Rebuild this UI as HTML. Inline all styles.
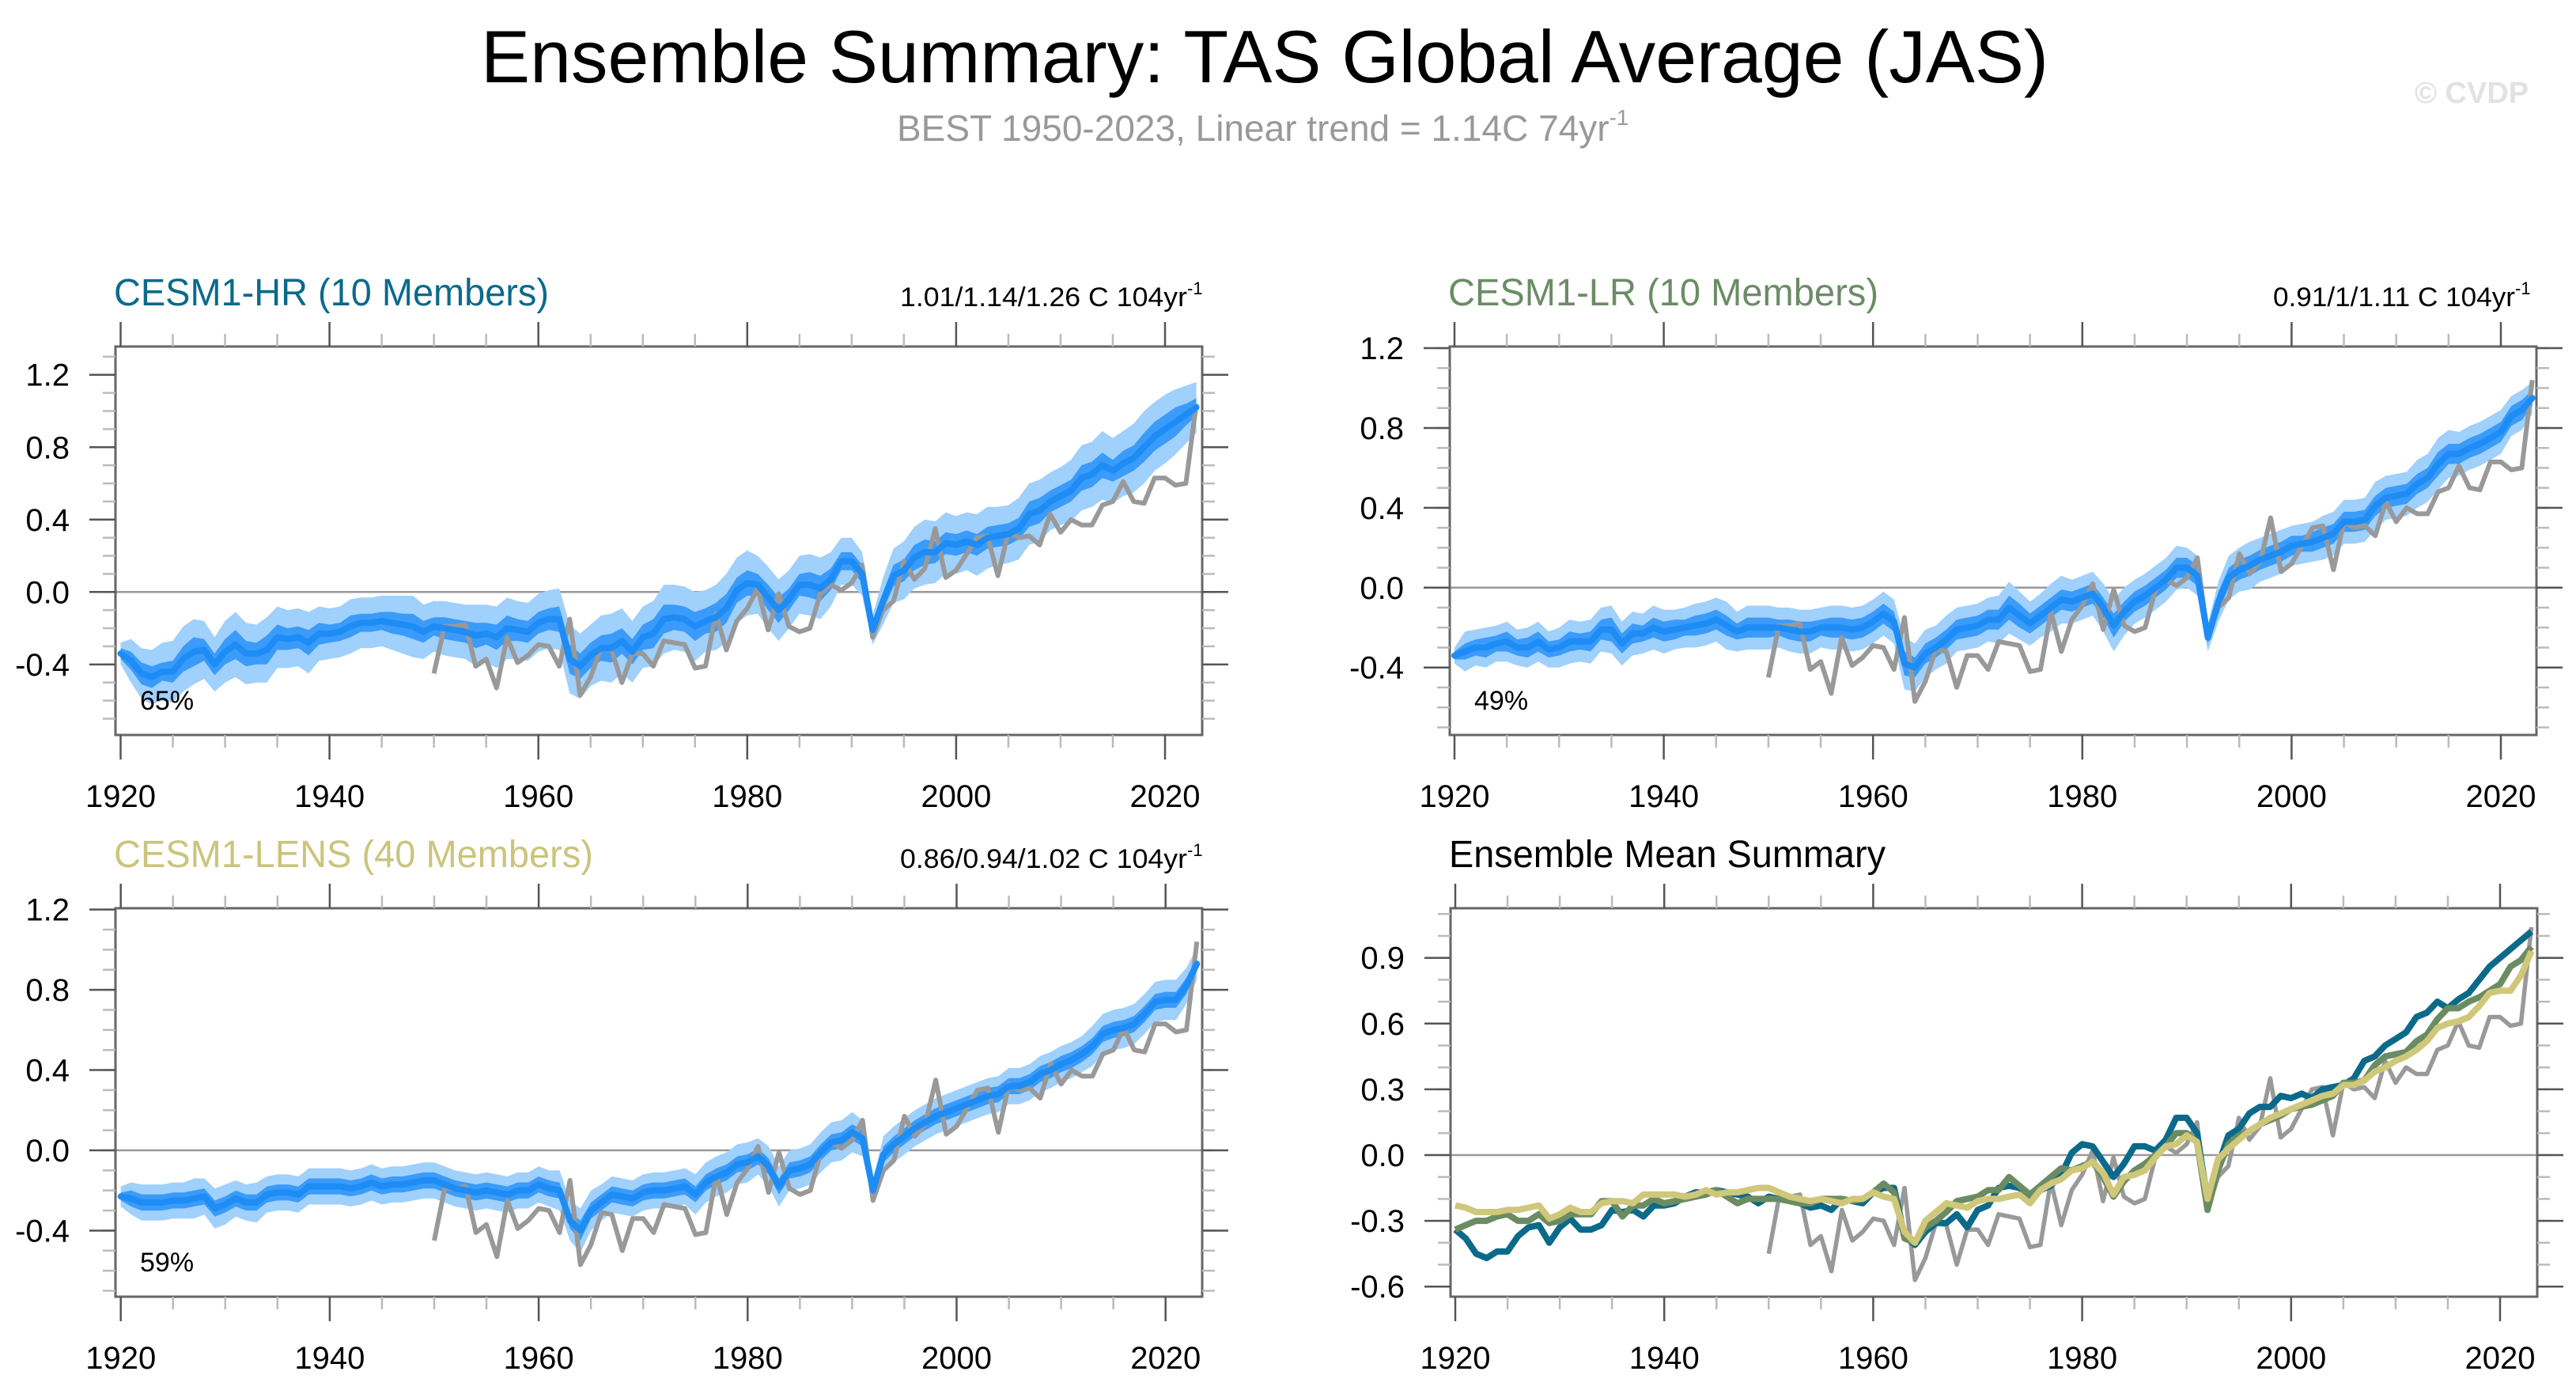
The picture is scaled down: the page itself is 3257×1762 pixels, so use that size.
<!DOCTYPE html>
<html><head><meta charset="utf-8"><style>
html,body{margin:0;padding:0;background:#fff}
svg{display:block;font-family:"Liberation Sans",Arial,sans-serif}
</style></head><body>
<svg id="fig" width="3257" height="1762" viewBox="0 0 3257 1762" xmlns="http://www.w3.org/2000/svg">
<rect x="0" y="0" width="3257" height="1762" fill="#fff"/>
<text x="608" y="104" font-size="94" fill="#000" textLength="1982" lengthAdjust="spacingAndGlyphs">Ensemble Summary: TAS Global Average (JAS)</text>
<text x="1134" y="178" font-size="46" fill="#999">BEST 1950-2023, Linear trend = 1.14C 74yr<tspan font-size="28" dy="-20">-1</tspan></text>
<text x="3053" y="130" font-size="38" font-weight="bold" fill="#e2e2e2">© CVDP</text>
<g id="panels"></g>
</svg>
<script>
// ---- data ----
const years = [];
for (let y = 1920; y <= 2023; y++) years.push(y);
const obsYears = [];
for (let y = 1950; y <= 2023; y++) obsYears.push(y);

const obsBEST = [
-0.45,-0.19,-0.19,-0.18,-0.41,-0.37,-0.53,-0.25,-0.39,-0.35,
-0.29,-0.30,-0.41,-0.15,-0.57,-0.47,-0.31,-0.32,-0.50,-0.34,
-0.34,-0.41,-0.27,-0.28,-0.29,-0.42,-0.41,-0.12,-0.32,-0.16,
-0.09,0.02,-0.21,-0.01,-0.19,-0.22,-0.20,-0.01,0.04,0.01,
0.05,0.15,-0.25,-0.10,-0.05,0.17,0.07,0.13,0.35,0.08,
0.12,0.21,0.30,0.31,0.09,0.33,0.30,0.31,0.26,0.43,
0.33,0.40,0.37,0.37,0.48,0.50,0.61,0.50,0.49,0.63,
0.63,0.59,0.60,1.04];

const meanHR = [
-0.34,-0.38,-0.45,-0.47,-0.44,-0.44,-0.37,-0.33,-0.32,-0.40,
-0.33,-0.29,-0.34,-0.34,-0.32,-0.25,-0.26,-0.25,-0.28,-0.23,
-0.23,-0.22,-0.19,-0.17,-0.17,-0.16,-0.17,-0.18,-0.19,-0.22,
-0.19,-0.20,-0.21,-0.22,-0.24,-0.23,-0.25,-0.20,-0.21,-0.22,
-0.17,-0.15,-0.15,-0.37,-0.41,-0.35,-0.31,-0.31,-0.27,-0.33,
-0.25,-0.23,-0.15,-0.14,-0.15,-0.19,-0.16,-0.14,-0.09,0.01,
0.05,0.04,-0.03,-0.10,-0.04,0.04,0.04,0.02,0.07,0.17,
0.17,0.10,-0.21,-0.05,0.09,0.12,0.19,0.22,0.22,0.27,
0.26,0.28,0.26,0.30,0.31,0.32,0.35,0.43,0.45,0.50,
0.53,0.56,0.63,0.65,0.70,0.67,0.71,0.74,0.80,0.86,
0.90,0.94,0.98,1.02];

const meanLR = [
-0.34,-0.32,-0.30,-0.30,-0.28,-0.27,-0.30,-0.30,-0.27,-0.31,
-0.30,-0.27,-0.27,-0.27,-0.21,-0.21,-0.28,-0.23,-0.23,-0.20,
-0.22,-0.21,-0.20,-0.19,-0.18,-0.16,-0.19,-0.22,-0.20,-0.20,
-0.20,-0.20,-0.21,-0.22,-0.22,-0.20,-0.20,-0.20,-0.21,-0.20,
-0.17,-0.13,-0.17,-0.38,-0.40,-0.33,-0.30,-0.26,-0.21,-0.20,
-0.19,-0.16,-0.16,-0.10,-0.14,-0.18,-0.14,-0.10,-0.06,-0.07,
-0.05,-0.03,-0.10,-0.19,-0.12,-0.07,-0.04,0.00,0.04,0.10,
0.10,0.06,-0.25,-0.07,0.05,0.09,0.11,0.14,0.16,0.18,
0.21,0.22,0.23,0.25,0.27,0.33,0.33,0.34,0.41,0.45,
0.46,0.47,0.52,0.55,0.62,0.67,0.67,0.70,0.72,0.75,
0.78,0.86,0.89,0.95];

const meanLENS = [
-0.23,-0.24,-0.26,-0.26,-0.26,-0.25,-0.25,-0.24,-0.23,-0.29,
-0.27,-0.24,-0.26,-0.26,-0.22,-0.21,-0.21,-0.22,-0.18,-0.18,
-0.18,-0.18,-0.19,-0.18,-0.16,-0.18,-0.17,-0.17,-0.16,-0.15,
-0.15,-0.17,-0.19,-0.20,-0.21,-0.20,-0.21,-0.22,-0.20,-0.20,
-0.17,-0.19,-0.20,-0.35,-0.40,-0.30,-0.26,-0.22,-0.23,-0.24,
-0.21,-0.20,-0.20,-0.19,-0.18,-0.22,-0.16,-0.13,-0.11,-0.07,
-0.06,-0.03,-0.08,-0.18,-0.10,-0.09,-0.07,-0.01,0.04,0.05,
0.09,0.06,-0.20,-0.02,0.03,0.07,0.11,0.14,0.17,0.19,
0.21,0.23,0.25,0.27,0.28,0.32,0.32,0.34,0.38,0.40,
0.43,0.45,0.48,0.52,0.58,0.60,0.61,0.63,0.68,0.74,
0.75,0.75,0.82,0.93];

const innerHR = [
0.03,0.05,0.06,0.06,0.05,0.06,0.07,0.08,0.06,0.06,
0.07,0.08,0.07,0.06,0.08,0.07,0.06,0.06,0.07,0.06,
0.05,0.05,0.06,0.05,0.05,0.05,0.06,0.06,0.07,0.06,
0.05,0.06,0.06,0.06,0.07,0.06,0.07,0.07,0.06,0.06,
0.06,0.06,0.07,0.08,0.07,0.07,0.07,0.08,0.07,0.07,
0.07,0.08,0.08,0.07,0.07,0.08,0.07,0.08,0.08,0.07,
0.07,0.06,0.07,0.07,0.06,0.06,0.07,0.07,0.06,0.05,
0.05,0.05,0.03,0.05,0.06,0.06,0.07,0.07,0.06,0.06,
0.06,0.06,0.06,0.06,0.06,0.06,0.06,0.07,0.07,0.06,
0.06,0.06,0.07,0.07,0.07,0.06,0.07,0.07,0.08,0.08,
0.08,0.08,0.06,0.05];
const outerHR = [
0.06,0.12,0.14,0.15,0.16,0.17,0.18,0.18,0.16,0.15,
0.17,0.18,0.17,0.16,0.18,0.17,0.16,0.16,0.17,0.15,
0.14,0.14,0.15,0.14,0.14,0.14,0.15,0.16,0.17,0.15,
0.14,0.15,0.15,0.15,0.17,0.16,0.17,0.17,0.16,0.16,
0.16,0.16,0.17,0.19,0.18,0.17,0.18,0.19,0.18,0.17,
0.17,0.18,0.19,0.18,0.18,0.19,0.17,0.18,0.19,0.18,
0.18,0.16,0.17,0.17,0.16,0.16,0.17,0.17,0.15,0.13,
0.13,0.12,0.08,0.13,0.15,0.16,0.17,0.18,0.17,0.17,
0.16,0.16,0.17,0.17,0.16,0.16,0.17,0.17,0.17,0.16,
0.16,0.17,0.18,0.18,0.19,0.18,0.18,0.19,0.20,0.19,
0.19,0.18,0.16,0.14];

const innerLR = [
0.02,0.04,0.04,0.05,0.04,0.05,0.04,0.05,0.05,0.04,
0.04,0.05,0.04,0.05,0.05,0.06,0.05,0.05,0.04,0.05,
0.05,0.05,0.04,0.05,0.05,0.05,0.05,0.04,0.05,0.05,
0.05,0.04,0.05,0.05,0.05,0.04,0.05,0.05,0.05,0.05,
0.05,0.05,0.05,0.06,0.05,0.05,0.05,0.05,0.05,0.05,
0.05,0.05,0.05,0.06,0.06,0.05,0.05,0.05,0.05,0.05,
0.05,0.05,0.05,0.06,0.05,0.05,0.05,0.05,0.05,0.05,
0.05,0.05,0.03,0.05,0.05,0.05,0.05,0.05,0.05,0.05,
0.05,0.04,0.05,0.05,0.05,0.05,0.05,0.05,0.05,0.05,
0.05,0.05,0.05,0.05,0.06,0.05,0.05,0.05,0.05,0.05,
0.05,0.05,0.05,0.04];
const outerLR = [
0.04,0.10,0.09,0.10,0.09,0.10,0.09,0.10,0.10,0.09,
0.10,0.11,0.10,0.11,0.11,0.12,0.11,0.11,0.10,0.11,
0.11,0.10,0.10,0.11,0.11,0.11,0.12,0.10,0.11,0.11,
0.11,0.10,0.11,0.11,0.11,0.10,0.11,0.11,0.11,0.11,
0.11,0.11,0.11,0.13,0.12,0.12,0.11,0.12,0.11,0.11,
0.11,0.11,0.12,0.13,0.12,0.11,0.11,0.12,0.12,0.11,
0.11,0.11,0.12,0.13,0.12,0.11,0.11,0.11,0.11,0.11,
0.10,0.10,0.07,0.10,0.11,0.11,0.12,0.11,0.11,0.11,
0.10,0.10,0.10,0.11,0.11,0.11,0.11,0.11,0.12,0.11,
0.11,0.11,0.12,0.12,0.13,0.12,0.11,0.11,0.11,0.11,
0.11,0.10,0.10,0.08];

const innerLENS = [
0.02,0.04,0.04,0.04,0.04,0.04,0.04,0.04,0.04,0.04,
0.04,0.04,0.04,0.04,0.04,0.04,0.04,0.04,0.04,0.04,
0.04,0.04,0.04,0.04,0.04,0.04,0.04,0.04,0.04,0.04,
0.04,0.04,0.04,0.04,0.04,0.04,0.04,0.04,0.04,0.04,
0.04,0.04,0.04,0.04,0.05,0.04,0.04,0.04,0.04,0.04,
0.04,0.04,0.04,0.04,0.04,0.04,0.04,0.04,0.04,0.04,
0.04,0.04,0.04,0.04,0.04,0.04,0.04,0.04,0.04,0.04,
0.04,0.04,0.03,0.04,0.04,0.04,0.04,0.04,0.04,0.04,
0.04,0.04,0.04,0.04,0.04,0.04,0.04,0.04,0.04,0.04,
0.04,0.04,0.04,0.04,0.04,0.04,0.04,0.04,0.04,0.04,
0.04,0.04,0.04,0.03];
const outerLENS = [
0.05,0.08,0.09,0.09,0.09,0.09,0.09,0.10,0.09,0.10,
0.10,0.09,0.09,0.10,0.09,0.09,0.09,0.09,0.09,0.09,
0.09,0.09,0.09,0.09,0.09,0.09,0.09,0.09,0.09,0.09,
0.09,0.09,0.09,0.09,0.09,0.09,0.09,0.09,0.09,0.09,
0.09,0.09,0.10,0.10,0.11,0.10,0.09,0.09,0.09,0.09,
0.09,0.09,0.09,0.09,0.09,0.10,0.10,0.10,0.10,0.10,
0.10,0.09,0.10,0.10,0.10,0.10,0.10,0.10,0.10,0.10,
0.10,0.09,0.06,0.09,0.09,0.09,0.09,0.09,0.09,0.09,
0.09,0.09,0.09,0.09,0.09,0.09,0.09,0.09,0.09,0.09,
0.09,0.09,0.09,0.10,0.10,0.10,0.10,0.10,0.10,0.10,
0.10,0.10,0.09,0.08];

const xTickLabels = ["1920","1940","1960","1980","2000","2020"];
const yTicksModel = [-0.4, 0.0, 0.4, 0.8, 1.2];
const yTickLabelsModel = ["-0.4","0.0","0.4","0.8","1.2"];
const yTicksMean = [-0.6, -0.3, 0.0, 0.3, 0.6, 0.9];
const yTickLabelsMean = ["-0.6","-0.3","0.0","0.3","0.6","0.9"];
const percents = ["65%","49%","59%"];

// ---- layout ----
const NS = "http://www.w3.org/2000/svg";
const root = document.getElementById('panels');
function el(tag, attrs, parent) {
  const e = document.createElementNS(NS, tag);
  for (const k in attrs) e.setAttribute(k, attrs[k]);
  (parent || root).appendChild(e);
  return e;
}
const panels = [
  {name:'cesm1-hr', x0:146, x1:1520, y0:438, y1:929, xa:152.5, xs:13.205, yz:748.3, ys:228.8, vmin:-0.79, vmax:1.356,
   title:'CESM1-HR (10 Members)', tcol:'#0A6A8C', tlen:550, trend:'1.01/1.14/1.26 C 104yr', trx:1138, trlen:375,
   mean:meanHR, inner:innerHR, outer:outerHR, pct:percents[0], ticks:yTicksModel, tlabels:yTickLabelsModel},
  {name:'cesm1-lr', x0:1833, x1:3207, y0:438, y1:929, xa:1839, xs:13.23, yz:742.8, ys:252.3, vmin:-0.738, vmax:1.208,
   title:'CESM1-LR (10 Members)', tcol:'#6B8C65', tlen:544, trend:'0.91/1/1.11 C 104yr', trx:2874, trlen:318,
   mean:meanLR, inner:innerLR, outer:outerLR, pct:percents[1], ticks:yTicksModel, tlabels:yTickLabelsModel},
  {name:'cesm1-lens', x0:146, x1:1520, y0:1148, y1:1639, xa:152.7, xs:13.21, yz:1454, ys:253.6, vmin:-0.731, vmax:1.206,
   title:'CESM1-LENS (40 Members)', tcol:'#CBC47C', tlen:606, trend:'0.86/0.94/1.02 C 104yr', trx:1138, trlen:375,
   mean:meanLENS, inner:innerLENS, outer:outerLENS, pct:percents[2], ticks:yTicksModel, tlabels:yTickLabelsModel},
  {name:'ensemble-mean-summary', x0:1834, x1:3208, y0:1148, y1:1639, xa:1840, xs:13.21, yz:1460, ys:277, vmin:-0.647, vmax:1.124,
   title:'Ensemble Mean Summary', tcol:'#000', tlen:552, summary:true, ticks:yTicksMean, tlabels:yTickLabelsMean}
];

function pts(p, xs, vs) {
  const out = [];
  for (let i = 0; i < vs.length; i++) out.push((p.xa + (xs[i]-1920)*p.xs).toFixed(1) + ',' + (p.yz - vs[i]*p.ys).toFixed(1));
  return out;
}

panels.forEach(p => {
  const X = yr => p.xa + (yr-1920)*p.xs;
  const Y = v => p.yz - v*p.ys;
  const g = el('g', {});
  
  
  const t = el('text', {x:p.x0-2, y:p.y0-52, 'font-size':48, fill:p.tcol, textLength:p.tlen, lengthAdjust:'spacingAndGlyphs'}, g);
  t.textContent = p.title;
  
  
  if (p.trend) {
    const tr = el('text', {x:p.trx, y:p.y0-51, 'font-size':34, fill:'#000'}, g);
    
    
    const main = el('tspan', {textLength:p.trlen-12, lengthAdjust:'spacingAndGlyphs'}, tr);
    main.textContent = p.trend;
    const sup = el('tspan', {'font-size':22, dy:-15}, tr);
    sup.textContent = '-1';
  }
  const cid = 'clip-' + p.name;
  const cp = el('clipPath', {id:cid}, g);
  el('rect', {x:p.x0, y:p.y0, width:p.x1-p.x0, height:p.y1-p.y0}, cp);
  const plot = el('g', {'clip-path':'url(#'+cid+')'}, g);
  const zl = el('line', {x1:p.x0, x2:p.x1, y1:Y(0), y2:Y(0), stroke:'#999', 'stroke-width':2.5}, plot);
  
  
  if (!p.summary) {
    const up = [], lo = [], ui = [], li = [];
    for (let i = 0; i < years.length; i++) {
      up.push(p.mean[i] + p.outer[i]); lo.push(p.mean[i] - p.outer[i]);
      ui.push(p.mean[i] + p.inner[i]); li.push(p.mean[i] - p.inner[i]);
    }
    const ry = years.slice().reverse();
    const ob = el('polygon', {points: pts(p, years, up).concat(pts(p, ry, lo.slice().reverse())).join(' '), fill:'#A0D0FC'}, plot);
    
    
    const ib = el('polygon', {points: pts(p, years, ui).concat(pts(p, ry, li.slice().reverse())).join(' '), fill:'#3A9BFA'}, plot);
    
    
    const ol = el('polyline', {points: pts(p, obsYears, obsBEST).join(' '), fill:'none', stroke:'#999', 'stroke-width':6, 'stroke-linejoin':'round'}, plot);
    
    
    const ml = el('polyline', {points: pts(p, years, p.mean).join(' '), fill:'none', stroke:'#1E8CF5', 'stroke-width':8, 'stroke-linejoin':'round', 'stroke-linecap':'round'}, plot);
    
    
  } else {
    const ol = el('polyline', {points: pts(p, obsYears, obsBEST).join(' '), fill:'none', stroke:'#999', 'stroke-width':5.5, 'stroke-linejoin':'round'}, plot);
    
    
    const l1 = el('polyline', {points: pts(p, years, meanHR).join(' '), fill:'none', stroke:'#0B6A8A', 'stroke-width':8, 'stroke-linejoin':'round'}, plot);
    
    
    const l2 = el('polyline', {points: pts(p, years, meanLR).join(' '), fill:'none', stroke:'#6B8C62', 'stroke-width':8, 'stroke-linejoin':'round'}, plot);
    
    
    const l3 = el('polyline', {points: pts(p, years, meanLENS).join(' '), fill:'none', stroke:'#CFC77A', 'stroke-width':8, 'stroke-linejoin':'round'}, plot);
    
    
  }
  const bx = el('rect', {x:p.x0, y:p.y0, width:p.x1-p.x0, height:p.y1-p.y0, fill:'none', stroke:'#666', 'stroke-width':3}, g);
  
  
  for (let yr = 1920; yr <= 2023; yr += 5) {
    const major = (yr % 20 === 0);
    const len = major ? 31 : 16;
    const col = major ? '#555' : '#bbb';
    el('line', {x1:X(yr), x2:X(yr), y1:p.y0, y2:p.y0-len, stroke:col, 'stroke-width':2.5}, g);
    el('line', {x1:X(yr), x2:X(yr), y1:p.y1, y2:p.y1+len, stroke:col, 'stroke-width':2.5}, g);
  }
  xTickLabels.forEach(lab => {
    const tx = el('text', {x:X(+lab), y:p.y1+91, 'font-size':40, 'text-anchor':'middle', fill:'#000'}, g);
    tx.textContent = lab;
    
    
  });
  for (let k = Math.ceil(p.vmin*10); k <= Math.floor(p.vmax*10); k++) {
    const v = k/10;
    const yy = Y(v);
    el('line', {x1:p.x0, x2:p.x0-16, y1:yy, y2:yy, stroke:'#bbb', 'stroke-width':2.5}, g);
    el('line', {x1:p.x1, x2:p.x1+16, y1:yy, y2:yy, stroke:'#bbb', 'stroke-width':2.5}, g);
  }
  p.ticks.forEach((v, i) => {
    const yy = Y(v);
    el('line', {x1:p.x0, x2:p.x0-33, y1:yy, y2:yy, stroke:'#555', 'stroke-width':2.5}, g);
    el('line', {x1:p.x1, x2:p.x1+33, y1:yy, y2:yy, stroke:'#555', 'stroke-width':2.5}, g);
    const ty = el('text', {x:p.x0-58, y:yy+14, 'font-size':40, 'text-anchor':'end', fill:'#000'}, g);
    ty.textContent = p.tlabels[i];
    
    
  });
  if (p.pct) {
    const pc = el('text', {x:p.x0+31, y:p.y1-32, 'font-size':34, fill:'#000'}, g);
    pc.textContent = p.pct;
    
    
  }
});
</script>
</body></html>
